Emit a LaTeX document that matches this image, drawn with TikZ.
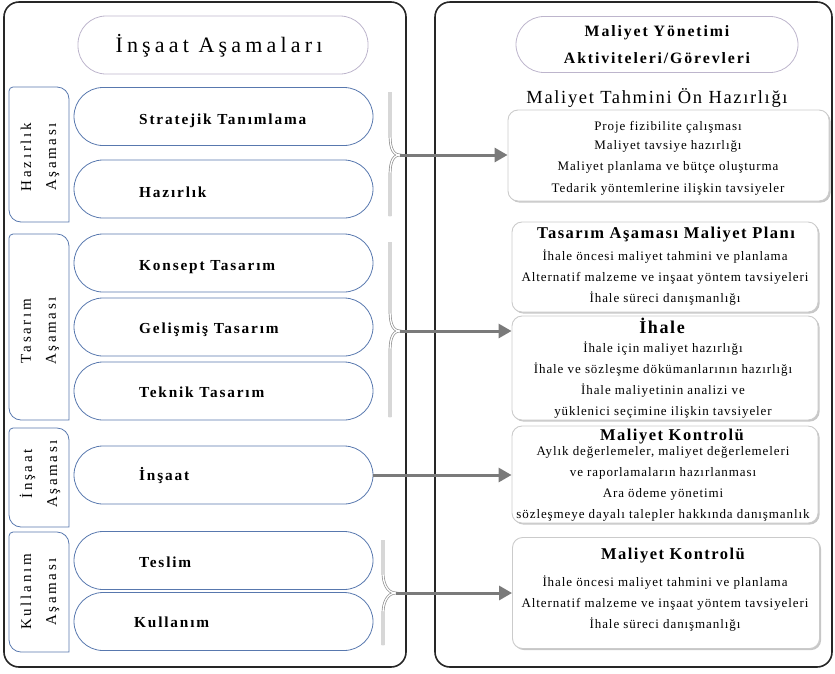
\documentclass[tikz,border=0pt]{standalone}
\usepackage{fontspec}
\setmainfont{Liberation Serif}
\newfontfamily\titlefont[LetterSpace=19]{Liberation Serif}
\newfontfamily\spacedfont[LetterSpace=12]{Liberation Serif}
\newfontfamily\phasefont[LetterSpace=18]{Liberation Serif}
\newfontfamily\headfont[LetterSpace=9]{Liberation Serif}
\newfontfamily\bodyfont[LetterSpace=7]{Liberation Serif}
\usetikzlibrary{arrows.meta,shadows}

\definecolor{pillblue}{HTML}{5878AE}
\definecolor{titleline}{HTML}{BDB5CC}
\definecolor{bracegray}{HTML}{8E8E8E}
\definecolor{arrowgray}{HTML}{7A7A7A}
\definecolor{boxline}{HTML}{CBCBCB}

\begin{document}
\begin{tikzpicture}[x=1pt,y=-1pt,
  panel/.style={draw=black!85,line width=1.6pt,rounded corners=15pt,inner sep=0pt},
  titlepill/.style={draw=titleline,line width=0.8pt,rounded corners=28pt,inner sep=0pt,align=center},
  pill/.style={draw=pillblue,line width=0.8pt,rounded corners=29pt,minimum width=299pt,minimum height=58pt,inner sep=0pt},
  pilltext/.style={anchor=base west,inner sep=0pt,font=\spacedfont\fontsize{15.3}{18}\selectfont\bfseries},
  phaseline/.style={draw=pillblue,line width=0.8pt},
  phasetext/.style={rotate=90,align=center,inner sep=0pt,font=\phasefont\fontsize{15}{25}\selectfont},
  bracket/.style={draw=bracegray,line width=0.7pt,double=white,double distance=1.3pt},
  link/.style={draw=arrowgray,line width=3pt},
  linkarrow/.style={link,-{Triangle[length=13pt,width=14pt]}},
  taskbox/.style={draw=boxline,line width=0.9pt,fill=white,rounded corners=10pt,inner sep=0pt,
    drop shadow={shadow xshift=1.6pt,shadow yshift=-1.6pt,fill=black,opacity=0.22}},
  taskhead/.style={anchor=base,inner sep=0pt,font=\headfont\fontsize{16.5}{19}\selectfont\bfseries},
  tasktext/.style={anchor=base,inner sep=0pt,font=\bodyfont\fontsize{13}{15}\selectfont}
]
\useasboundingbox (0,0) rectangle (835,673);

% two framing panels
\node[panel,minimum width=402pt,minimum height=665pt] (leftpanel) at (205,334.5) {};
\node[panel,minimum width=397pt,minimum height=665pt] (rightpanel) at (633.5,334.5) {};

% panel titles
\node[titlepill,minimum width=290pt,minimum height=58pt] (stagetitle) at (223,45) {};
\node[inner sep=0pt,anchor=base,font=\titlefont\fontsize{22}{26}\selectfont] (stagetitletext) at (219,52.5) {İnşaat Aşamaları};
\node[titlepill,minimum width=282pt,minimum height=56pt,font=\spacedfont\fontsize{15.8}{27}\selectfont\bfseries] (tasktitle) at (657,44.5) {Maliyet Yönetimi\\Aktiviteleri/Görevleri};

% phase tabs (left column)
\draw[phaseline] (69,222) -- (21,222) arc[start angle=270,end angle=180,radius=12pt] -- (9,91) arc[start angle=180,end angle=90,radius=4pt] -- (57,87) arc[start angle=90,end angle=0,radius=12pt] -- cycle;
\draw[phaseline] (69,420) -- (21,420) arc[start angle=270,end angle=180,radius=12pt] -- (9,238) arc[start angle=180,end angle=90,radius=4pt] -- (57,234) arc[start angle=90,end angle=0,radius=12pt] -- cycle;
\draw[phaseline] (69,527) -- (21,527) arc[start angle=270,end angle=180,radius=12pt] -- (9,432) arc[start angle=180,end angle=90,radius=4pt] -- (57,428) arc[start angle=90,end angle=0,radius=12pt] -- cycle;
\draw[phaseline] (69,652) -- (21,652) arc[start angle=270,end angle=180,radius=12pt] -- (9,536) arc[start angle=180,end angle=90,radius=4pt] -- (57,532) arc[start angle=90,end angle=0,radius=12pt] -- cycle;
\node[phasetext] (ph1) at (40,157) {Hazırlık\\Aşaması};
\node[phasetext] (ph2) at (40,331) {Tasarım\\Aşaması};
\node[phasetext] (ph3) at (40,474) {İnşaat\\Aşaması};
\node[phasetext] (ph4) at (40,592) {Kullanım\\Aşaması};

% stage pills
\node[pill] (s1) at (223.5,116.5) {};
\node[pill] (s2) at (223.5,189) {};
\node[pill] (s3) at (223.5,263) {};
\node[pill] (s4) at (223.5,327) {};
\node[pill] (s5) at (223.5,391) {};
\node[pill] (s6) at (223.5,475) {};
\node[pill] (s7) at (223.5,560.5) {};
\node[pill] (s8) at (223.5,621.5) {};
\node[pilltext] (st1) at (139,124.5) {Stratejik Tanımlama};
\node[pilltext] (st2) at (139,197) {Hazırlık};
\node[pilltext] (st3) at (139,270) {Konsept Tasarım};
\node[pilltext] (st4) at (139,333.5) {Gelişmiş Tasarım};
\node[pilltext] (st5) at (139,397.5) {Teknik Tasarım};
\node[pilltext] (st6) at (139,480.5) {İnşaat};
\node[pilltext] (st7) at (139,567) {Teslim};
\node[pilltext] (st8) at (134,627.5) {Kullanım};

% grouping brackets
\coordinate (b1tip) at (400,155);
\coordinate (b2tip) at (400,331);
\coordinate (b3tip) at (396,593);
\draw[bracket] (390,92) -- (390,133) to[out=-90,in=180] (b1tip) to[out=180,in=90] (390,177) -- (390,216);
\draw[bracket] (390,242) -- (390,309) to[out=-90,in=180] (b2tip) to[out=180,in=90] (390,353) -- (390,417);
\draw[bracket] (383,540) -- (383,573) to[out=-90,in=180] (b3tip) to[out=180,in=90] (383,613) -- (383,645);

% task boxes (right column)
\node[taskbox,minimum width=321pt,minimum height=91pt] (t1) at (668.5,155.5) {};
\node[taskbox,minimum width=306pt,minimum height=90pt] (t2) at (665,267) {};
\node[taskbox,minimum width=306pt,minimum height=104pt] (t3) at (665,368) {};
\node[taskbox,minimum width=306pt,minimum height=97pt] (t4) at (665,474.5) {};
\node[taskbox,minimum width=307pt,minimum height=111pt] (t5) at (666,593) {};

% connectors
\draw[linkarrow] (b1tip) -- (b1tip -| t1.west);
\draw[linkarrow] (b2tip) -- (b2tip -| t3.west);
\draw[linkarrow] (s6.east) -- (s6.east -| t4.west);
\draw[linkarrow] (b3tip) -- (b3tip -| t5.west);

% box headings
\node[taskhead,font=\headfont\fontsize{18.5}{21}\selectfont] (h1) at (657,103) {Maliyet Tahmini Ön Hazırlığı};
\node[taskhead] (h2) at (666,238) {Tasarım Aşaması Maliyet Planı};
\node[taskhead,font=\headfont\fontsize{18}{21}\selectfont\bfseries] (h3) at (662,333) {İhale};
\node[taskhead] (h4) at (672,440) {Maliyet Kontrolü};
\node[taskhead] (h5) at (673,559) {Maliyet Kontrolü};

% box contents
\foreach \y/\t [count=\i] in {130/Proje fizibilite çalışması, 149.5/Maliyet tavsiye hazırlığı, 170.5/Maliyet planlama ve bütçe oluşturma, 192/Tedarik yöntemlerine ilişkin tavsiyeler}
  \node[tasktext] (ta-\i) at (668,\y) {\t};
\foreach \y/\t [count=\i] in {260/İhale öncesi maliyet tahmini ve planlama, 281/Alternatif malzeme ve inşaat yöntem tavsiyeleri, 302/İhale süreci danışmanlığı}
  \node[tasktext] (tb-\i) at (665,\y) {\t};
\foreach \y/\t [count=\i] in {352/İhale için maliyet hazırlığı, 373/İhale ve sözleşme dökümanlarının hazırlığı, 394/İhale maliyetinin analizi ve, 415/yüklenici seçimine ilişkin tavsiyeler}
  \node[tasktext] (tc-\i) at (663,\y) {\t};
\foreach \y/\t [count=\i] in {455/{Aylık değerlemeler, maliyet değerlemeleri}, 476/ve raporlamaların hazırlanması, 497/Ara ödeme yönetimi, 518.5/sözleşmeye dayalı talepler hakkında danışmanlık}
  \node[tasktext] (td-\i) at (663,\y) {\t};
\foreach \y/\t [count=\i] in {586.5/İhale öncesi maliyet tahmini ve planlama, 607.5/Alternatif malzeme ve inşaat yöntem tavsiyeleri, 628/İhale süreci danışmanlığı}
  \node[tasktext] (te-\i) at (665,\y) {\t};
\end{tikzpicture}
\end{document}
